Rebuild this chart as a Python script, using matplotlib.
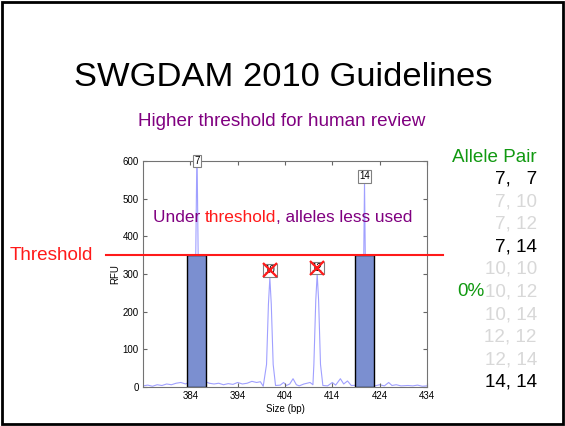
import matplotlib
matplotlib.use("Agg")
import matplotlib.pyplot as plt
from matplotlib.patches import Rectangle

plt.rcParams["font.family"] = ["Liberation Sans", "DejaVu Sans"]

# electropherogram trace (size in bp, signal in RFU)
size_bp = [374, 375, 376, 377, 378, 379, 380, 381, 382, 383,
           384.8, 385.1, 385.4, 385.7, 386.0,
           388, 389, 390, 391, 392, 393, 394, 395, 396, 397, 398, 398.8, 399.4,
           400.1, 400.5, 400.8, 401.1, 401.5, 402.0,
           403, 403.7, 404.3, 405, 405.7, 406.4, 407, 408, 409.3, 409.9,
           410.1, 410.5, 410.8, 411.1, 411.5, 412.0,
           413, 414, 414.7, 415.7, 416.4, 417.2, 418, 419.8,
           420.3, 420.6, 420.8, 421.0, 421.3, 422,
           423, 424, 425, 425.9, 426.6, 427.5, 428.5, 430, 431, 432, 433, 434]
rfu = [3, 5, 2, 6, 4, 8, 6, 10, 12, 8,
       20, 300, 640, 300, 20,
       10, 8, 10, 6, 9, 7, 12, 8, 10, 15, 12, 14, 2,
       60, 220, 290, 220, 60, 4,
       5, 12, 4, 8, 22, 6, 3, 8, 12, 6,
       60, 230, 300, 230, 60, 4,
       3, 12, 5, 22, 8, 16, 4, 5,
       30, 300, 545, 300, 30, 5,
       3, 6, 3, 12, 4, 6, 3, 4, 3, 5, 2, 3]

# allele calls
allele_names = ["7", "10", "12", "14"]
allele_size = [385.4, 400.8, 410.8, 420.8]
allele_label_rfu = [600, 310, 316, 560]
allele_rejected = [False, True, True, False]

# bars for the called alleles (cut at threshold)
bar_size = [385.4, 420.7]
threshold = 350

# allele pair list on the right
pairs = ["7,   7", "7, 10", "7, 12", "7, 14", "10, 10",
         "10, 12", "10, 14", "12, 12", "12, 14", "14, 14"]
pair_used = [True, False, False, True, False,
             False, False, False, False, True]

purple = "#800080"
green = "#119911"
red = "#ff1a1a"

W, H = 565, 426
fig = plt.figure(figsize=(W / 100, H / 100), dpi=100)
px = lambda x, y: (x / W, 1 - y / H)

ax = fig.add_axes([143 / W, 1 - 387 / H, (427 - 143) / W, (387 - 161) / H])
ax.plot(size_bp, rfu, color="#a0a0ff", lw=0.8, zorder=1)
ax.bar(bar_size, [threshold] * len(bar_size), width=4, color="#7b8fd0",
       edgecolor="black", lw=1, zorder=2)
ax.plot([-0.13, 1.056], [threshold, threshold], color=red, lw=1.5,
        transform=ax.get_yaxis_transform(), clip_on=False, zorder=3)

for name, x, y, rej in zip(allele_names, allele_size, allele_label_rfu, allele_rejected):
    ax.text(x, y, name, fontsize=7, ha="center", va="center", zorder=5,
            bbox=dict(boxstyle="square,pad=0.15", fc="white", ec="0.5", lw=0.8),
            clip_on=False)
    if rej:
        ax.plot(x, y, marker="x", color=red, ms=10, mew=1.6, zorder=6)

ax.set_xlim(374, 434)
ax.set_ylim(0, 600)
ax.set_xticks(range(384, 435, 10))
ax.set_yticks(range(0, 601, 100))
ax.tick_params(direction="in", length=3, labelsize=7, top=True, right=True,
               color="0.4", pad=3)
for s in ax.spines.values():
    s.set_color("0.45")
    s.set_linewidth(0.8)
ax.set_xlabel("Size (bp)", fontsize=7, labelpad=2)
ax.set_ylabel("RFU", fontsize=7, labelpad=2)

# slide texts
fig.text(*px(283, 78), "SWGDAM 2010 Guidelines", fontsize=24.8,
         ha="center", va="center")
fig.text(*px(282, 121), "Higher threshold for human review", fontsize=13.6,
         color=purple, ha="center", va="center")
t1 = fig.text(*px(153, 225), "Under ", fontsize=12.4, color=purple, va="bottom")
t2 = ax.annotate("threshold", xy=(1, 0), xycoords=t1, fontsize=12.4, color=red,
                 va="bottom", ha="left")
ax.annotate(", alleles less used", xy=(1, 0), xycoords=t2, fontsize=12.4,
            color=purple, va="bottom", ha="left")
fig.text(*px(10, 256), "Threshold", fontsize=13.6, color=red, va="center")

fig.text(*px(537, 157), "Allele Pair", fontsize=13.6, color=green,
         ha="right", va="center")
for i, (p, used) in enumerate(zip(pairs, pair_used)):
    fig.text(*px(537, 179 + 22.6 * i), p, fontsize=13.6, ha="right", va="center",
             color="black" if used else "#d8d8d8")
fig.text(*px(484, 292), "0%", fontsize=13.6, color=green, ha="right", va="center")

fig.patches.append(Rectangle((0.004, 0.005), 0.992, 0.99, fill=False,
                             ec="black", lw=2, transform=fig.transFigure,
                             figure=fig))
fig.savefig("out.png", dpi=100)
